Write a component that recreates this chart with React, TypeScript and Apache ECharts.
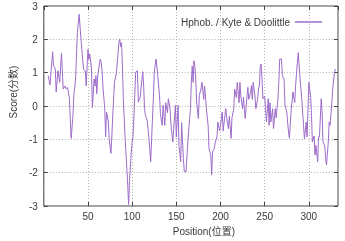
import React, { useEffect, useRef } from 'react';
import * as echarts from 'echarts';

const seriesName = 'Hphob. / Kyte & Doolittle';
const xAxisName = 'Position(位置)';
const yAxisName = 'Score(分数)';

const positions = [
  5, 7, 10, 11, 13, 14, 16, 18, 20, 22, 24, 25, 27, 29, 31, 33, 34, 36, 38, 40,
  41, 43, 45, 47, 48, 50, 51, 52, 54, 55, 57, 58, 59, 60, 61, 63, 64, 65, 66, 67,
  69, 70, 71, 73, 74, 76, 77, 78, 80, 82, 84, 85, 86, 87, 88, 89, 90, 92, 94, 95,
  96, 97, 99, 100, 101, 102, 104, 106, 107, 109, 110, 112, 113, 114, 115, 117, 119, 121, 122, 124,
  125, 127, 128, 129, 131, 132, 134, 135, 137, 138, 140, 141, 143, 144, 146, 147, 149, 150, 152, 153,
  155, 156, 158, 159, 161, 163, 166, 167, 168, 169, 170, 171, 172, 173, 175, 176, 178, 179, 181, 182,
  183, 184, 186, 187, 189, 190, 191, 193, 194, 196, 197, 199, 200, 202, 203, 205, 206, 207, 209, 210,
  212, 213, 215, 216, 218, 219, 221, 222, 223, 225, 226, 227, 228, 230, 231, 232, 234, 235, 236, 237,
  239, 240, 242, 243, 244, 245, 246, 247, 248, 250, 251, 252, 254, 255, 256, 257, 259, 260, 262, 263,
  265, 266, 267, 269, 270, 272, 273, 275, 277, 278, 280, 281, 282, 284, 285, 287, 288, 289, 291, 292,
  294, 295, 297, 298, 299, 300, 301, 302, 303, 304, 306, 307, 308, 310, 311, 312, 314, 315, 316, 318,
  319, 320, 322, 323, 324, 326, 327, 329, 330,
];

const scores = [
  0.91, 0.63, 1.63, 1.21, 1.11, 0.42, 1.06, 0.71, 1.58, 0.51, 0.6, 0.52, 0.55, 0.22, -0.97, -0.28, 0.32, 0.81, 2.2, 2.75,
  2.4, 1.7, 1.1, 1.06, 0.6, 1.7, 1.4, 1.56, 1.11, -0.05, 0.81, 0.6, 0.91, 0.37, 0.9, 1.26, 1.41, 1.3, 1.05, 0.56,
  -0.08, -0.92, -0.18, -0.45, -1.0, -1.42, -0.93, -0.3, 0.71, 0.96, 1.56, 1.9, 2.0, 1.78, 1.9, 1.21, 0.22, -0.93, -1.87, -2.36,
  -2.96, -2.26, -1.38, -1.08, -0.9, -0.3, 1.01, 1.06, 0.12, 0.25, 0.51, 1.03, 0.63, -0.07, -0.28, -0.43, -0.97, -1.67, -1.0, 0.22,
  1.01, 1.41, 1.2, 0.91, 0.32, -0.23, -0.58, 0.02, -0.58, 0.1, -0.2, 0.22, -0.1, -0.58, -1.08, -0.7, 0.02, -0.93, 0.02, -1.18,
  -1.67, -0.5, -1.57, -1.97, -1.97, -1.08, -0.08, 0.71, 1.2, 0.71, 1.36, 1.2, 0.81, 0.12, -0.38, 0.32, 0.51, 0.71, 0.2, 0.6,
  0.3, -0.08, -0.58, -1.28, -1.47, -2.06, -1.38, -1.28, -1.1, -0.93, -0.48, -0.75, -0.58, -0.18, -0.75, -0.28, -0.08, -0.35, -0.68, -0.3,
  -0.97, -0.35, -0.1, 0.51, 0.25, 0.71, 0.1, 0.71, 0.3, -0.08, 0.27, -0.1, -0.38, 0.3, 0.56, 0.2, 0.4, 0.61, 0.2, 0.71,
  0.3, -0.08, 0.2, 0.51, 0.6, 1.2, 1.26, 0.81, 0.22, 0.3, -0.08, -0.48, 0.22, -0.58, 0.1, -0.48, -0.08, -0.68, -0.08, -0.35,
  0.22, 0.71, 1.41, 1.41, 0.91, 0.8, 0.02, -0.18, -0.78, -0.97, -0.1, 0.12, 0.42, 0.1, 0.61, 1.3, 1.6, 1.2, 0.51, 0.2,
  -0.58, -0.98, -0.48, -0.93, -0.1, 0.71, 0.5, 0.3, -0.28, -1.08, -0.9, -1.47, -1.18, -1.67, -0.93, -0.93, 0.22, -0.18, -1.08, -1.2,
  -1.57, -1.77, -1.08, -0.48, -0.58, 0.1, 0.51, 1.01, 1.11,
];

const xMin = 0;
const xMax = 333;
const xInterval = 50;
const yMin = -3;
const yMax = 3;
const yInterval = 1;

const FONT = '"Liberation Sans", Arial, "Noto Sans CJK SC", sans-serif';
const TEXT = '#3a3a3a';
const BORDER = '#444444';
const GRIDC = '#b0b0b0';
const LINEC = '#9d6cc9';

export default function App() {
  const ref = useRef<HTMLDivElement>(null);
  useEffect(() => {
    const chart = echarts.init(ref.current as HTMLDivElement, null, { renderer: 'svg' });
    const data = positions.map((p, i) => [p, scores[i]]);
    const tickStyle = { inside: true, length: 4, lineStyle: { color: BORDER, width: 1 } };
    const split = { show: true, lineStyle: { color: GRIDC, width: 1, type: [1, 2] } };
    const noLine = { show: false, onZero: false };
    chart.setOption({
      animation: false,
      textStyle: { fontFamily: FONT },
      grid: {
        left: 40, right: 7, top: 6, bottom: 33,
        show: true, borderColor: BORDER, borderWidth: 1, backgroundColor: 'transparent',
      },
      legend: {
        data: [{ name: seriesName, icon: 'rect' }],
        right: 18, top: 12,
        align: 'right',
        itemWidth: 27, itemHeight: 1.5, itemGap: 10,
        textStyle: { color: TEXT, fontSize: 10, fontFamily: FONT },
      },
      xAxis: [
        {
          type: 'value', min: xMin, max: xMax, interval: xInterval, position: 'bottom',
          axisLine: noLine, axisTick: tickStyle,
          axisLabel: { color: TEXT, fontSize: 10, margin: 5, showMinLabel: false, showMaxLabel: false, fontFamily: FONT },
          splitLine: split,
          name: xAxisName, nameLocation: 'middle', nameGap: 20,
          nameTextStyle: { color: TEXT, fontSize: 10, fontFamily: FONT, padding: [0, 0, 0, 26] },
        },
        {
          type: 'value', min: xMin, max: xMax, interval: xInterval, position: 'top',
          axisLine: noLine, axisTick: tickStyle, axisLabel: { show: false }, splitLine: { show: false },
        },
      ],
      yAxis: [
        {
          type: 'value', min: yMin, max: yMax, interval: yInterval, position: 'left',
          axisLine: noLine, axisTick: tickStyle,
          axisLabel: { color: TEXT, fontSize: 10, margin: 6, fontFamily: FONT },
          splitLine: split,
          name: yAxisName, nameLocation: 'middle', nameGap: 25,
          nameTextStyle: { color: TEXT, fontSize: 10, fontFamily: FONT, padding: [0, 0, 0, 28] },
        },
        {
          type: 'value', min: yMin, max: yMax, interval: yInterval, position: 'right',
          axisLine: noLine, axisTick: tickStyle, axisLabel: { show: false }, splitLine: { show: false },
        },
      ],
      series: [
        {
          name: seriesName, type: 'line', data, symbol: 'none',
          lineStyle: { color: LINEC, width: 1 }, itemStyle: { color: LINEC },
        },
      ],
    });
    return () => chart.dispose();
  }, []);
  return <div ref={ref} style={{ position: 'fixed', left: 0, top: 0, width: 345, height: 241 }} />;
}
